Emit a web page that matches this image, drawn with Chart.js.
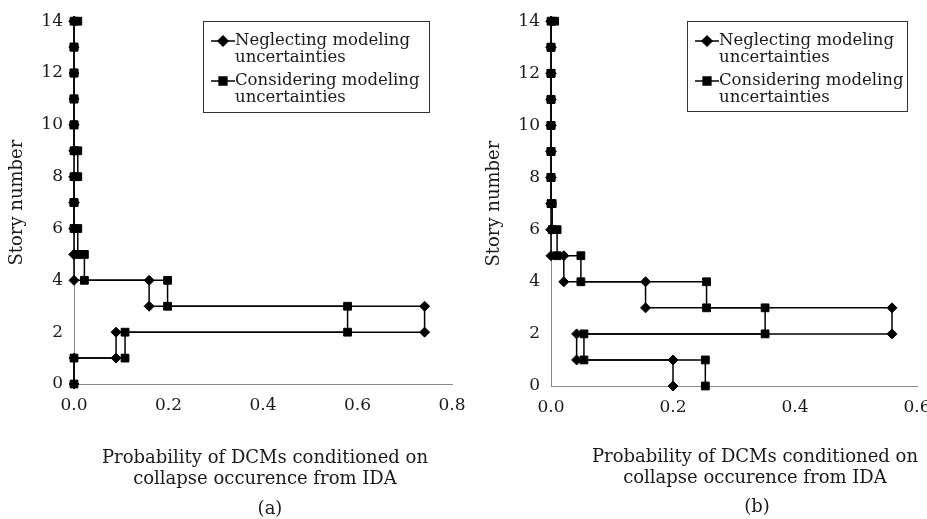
<!DOCTYPE html>
<html>
<head>
<meta charset="utf-8">
<script src="https://cdn.jsdelivr.net/npm/chart.js@4.4.0/dist/chart.umd.min.js"></script>
<style>
  body { margin: 0; width: 927px; height: 519px; overflow: hidden; background: #fff; position: relative; font-family: "DejaVu Serif", serif; color: #1a1a1a; }
  .panel { position: absolute; top: 0; height: 519px; }
  .cap { position: absolute; text-align: center; font-size: 18px; line-height: 21px; white-space: nowrap; }
</style>
</head>
<body>
<div class="panel" style="left:0;width:490px"><canvas id="chartA" width="490" height="519"></canvas></div>
<div class="panel" style="left:465px;width:480px"><canvas id="chartB" width="480" height="519"></canvas></div>

<div class="cap" style="left:65px;top:446px;width:400px">Probability of DCMs conditioned on<br>collapse occurence from IDA</div>
<div class="cap" style="left:170px;top:497px;width:200px">(a)</div>
<div class="cap" style="left:555px;top:445px;width:400px">Probability of DCMs conditioned on<br>collapse occurence from IDA</div>
<div class="cap" style="left:657px;top:495px;width:200px">(b)</div>

<script>
// Story levels (y axis)
const stories = [0, 1, 2, 3, 4, 5, 6, 7, 8, 9, 10, 11, 12, 13, 14];

// Probability per story, panel (a)
const neglectA = [0, 0.089, 0.742, 0.159, 0, 0, 0, 0, 0, 0, 0, 0, 0, 0, 0];
const considerA = [0, 0.108, 0.579, 0.198, 0.022, 0.008, 0, 0, 0.008, 0, 0, 0, 0, 0, 0.008];

// Probability per story, panel (b)
const neglectB = [0.200, 0.042, 0.559, 0.155, 0.021, 0, 0, 0, 0, 0, 0, 0, 0, 0, 0];
const considerB = [0.253, 0.054, 0.351, 0.255, 0.049, 0.010, 0.002, 0, 0, 0, 0, 0, 0, 0, 0.006];

const seriesLabels = ['Neglecting modeling uncertainties', 'Considering modeling uncertainties'];
const legendLines = [['Neglecting modeling', 'uncertainties'], ['Considering modeling', 'uncertainties']];
const yTicks = { min: 0, max: 14, step: 2 };

const FONT = '"DejaVu Serif", serif';
const AXIS_GRAY = '#8a8a8a';

// each story value holds from story i up to story i+1
function stepPoints(probs) {
    const pts = [];
    probs.forEach((p, i) => {
        pts.push({ x: p, y: stories[i] });
        if (i < probs.length - 1) pts.push({ x: p, y: stories[i + 1] });
    });
    return pts;
}

// legend drawn in a framed box inside the plot
const boxLegend = {
    id: 'boxLegend',
    afterDatasetsDraw(chart, args, opts) {
        const ctx = chart.ctx;
        ctx.save();
        ctx.fillStyle = '#fff';
        ctx.fillRect(opts.x, opts.y, opts.w, opts.h);
        ctx.strokeStyle = '#333';
        ctx.lineWidth = 1;
        ctx.strokeRect(opts.x + 0.5, opts.y + 0.5, opts.w, opts.h);
        ctx.font = '16.5px ' + FONT;
        ctx.textBaseline = 'middle';
        chart.data.datasets.forEach(ds => {
            const row = ds.legendRow;
            const y0 = opts.y + opts.rowY[row];
            ctx.strokeStyle = '#000';
            ctx.fillStyle = '#000';
            ctx.lineWidth = 1.5;
            ctx.beginPath();
            ctx.moveTo(opts.x + 8, y0);
            ctx.lineTo(opts.x + 32, y0);
            ctx.stroke();
            Chart.helpers.drawPoint(ctx, {
                pointStyle: ds.pointStyle, radius: ds.pointRadius, rotation: 0, borderWidth: 1
            }, opts.x + 20, y0);
            ctx.fillStyle = '#1a1a1a';
            legendLines[row].forEach((t, j) => ctx.fillText(t, opts.x + 32, y0 + j * opts.lineGap));
        });
        ctx.restore();
    }
};

function makeChart(id, neglect, consider, xMax, box) {
    const ctx = document.getElementById(id).getContext('2d');
    return new Chart(ctx, {
        type: 'scatter',
        data: {
            datasets: [{
                label: seriesLabels[0],
                data: stepPoints(neglect),
                legendRow: 0,
                order: 1,
                showLine: true,
                borderColor: '#000',
                backgroundColor: '#000',
                borderWidth: 1.5,
                pointStyle: 'rectRot',
                pointRadius: 5,
                pointBorderWidth: 1,
                clip: false
            }, {
                label: seriesLabels[1],
                data: stepPoints(consider),
                legendRow: 1,
                order: 0,
                showLine: true,
                borderColor: '#000',
                backgroundColor: '#000',
                borderWidth: 1.5,
                pointStyle: 'rect',
                pointRadius: 5.5,
                pointBorderWidth: 1,
                clip: false
            }]
        },
        options: {
            responsive: false,
            animation: false,
            devicePixelRatio: 1,
            layout: { padding: { top: box.padTop, right: box.padRight, bottom: 0, left: 0 } },
            plugins: {
                legend: { display: false },
                tooltip: { enabled: false },
                boxLegend: box.legend
            },
            scales: {
                x: {
                    type: 'linear',
                    min: 0,
                    max: xMax,
                    grid: { display: false, drawTicks: false },
                    border: { color: AXIS_GRAY, width: 1 },
                    ticks: {
                        stepSize: 0.2,
                        padding: 11,
                        color: '#1a1a1a',
                        font: { family: FONT, size: 17 },
                        maxRotation: 0,
                        callback: v => v.toFixed(1)
                    },
                    afterFit: s => { s.height = box.xHeight; }
                },
                y: {
                    type: 'linear',
                    min: yTicks.min,
                    max: yTicks.max,
                    grid: { display: false, drawTicks: false },
                    border: { color: AXIS_GRAY, width: 1 },
                    ticks: {
                        stepSize: yTicks.step,
                        padding: 11,
                        color: '#1a1a1a',
                        font: { family: FONT, size: 17 }
                    },
                    title: {
                        display: true,
                        text: 'Story number',
                        color: '#1a1a1a',
                        font: { family: FONT, size: 18 },
                        padding: { top: box.yTitlePad, bottom: 0 }
                    },
                    afterFit: s => { s.width = box.yWidth; }
                }
            }
        },
        plugins: [boxLegend]
    });
}

makeChart('chartA', neglectA, considerA, 0.8, {
    padTop: 16, padRight: 38, xHeight: 135, yWidth: 74, yTitlePad: 7,
    legend: { x: 203, y: 21, w: 226, h: 91, rowY: [20, 60], lineGap: 17 }
});

makeChart('chartB', neglectB, considerB, 0.6, {
    padTop: 16, padRight: 28, xHeight: 133, yWidth: 86, yTitlePad: 19,
    legend: { x: 222, y: 21, w: 220, h: 90, rowY: [20, 60], lineGap: 17 }
});
</script>
</body>
</html>
